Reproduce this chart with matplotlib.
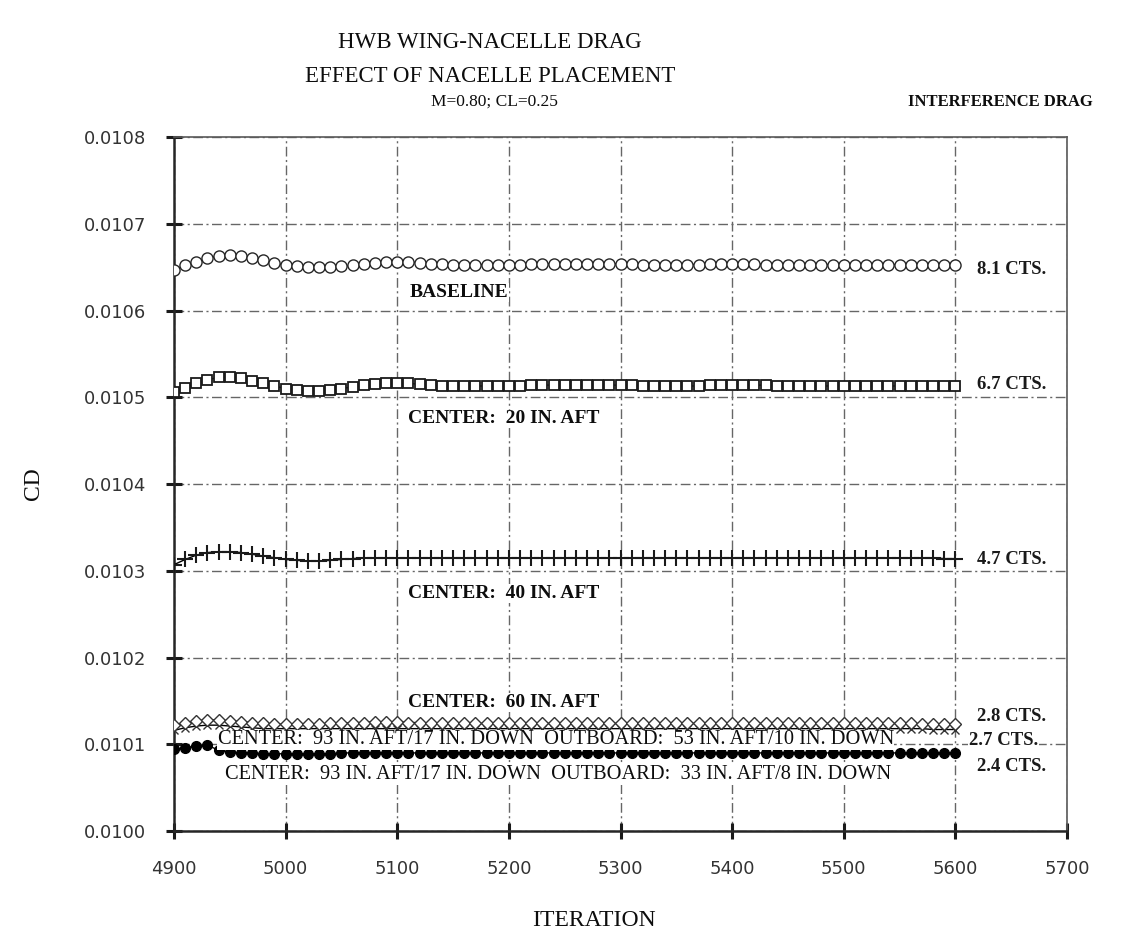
import matplotlib
matplotlib.use("Agg")
import matplotlib.pyplot as plt

# ---------------- data ----------------
iterations = list(range(4900, 5601, 10))

cd_baseline = [
    0.010647, 0.010652, 0.010656, 0.010660, 0.010663, 0.010664, 0.010663, 0.010661, 0.010658, 0.010655,
    0.010652, 0.010651, 0.010650, 0.010650, 0.010650, 0.010651, 0.010652, 0.010654, 0.010655, 0.010656,
    0.010656, 0.010656, 0.010655, 0.010654, 0.010654, 0.010653, 0.010653, 0.010653, 0.010653, 0.010653,
    0.010653, 0.010653, 0.010654, 0.010654, 0.010654, 0.010654, 0.010654, 0.010654, 0.010654, 0.010654,
    0.010654, 0.010654, 0.010653, 0.010653, 0.010653, 0.010653, 0.010653, 0.010653, 0.010654, 0.010654,
    0.010654, 0.010654, 0.010654, 0.010653, 0.010653, 0.010653, 0.010653, 0.010653, 0.010653, 0.010653,
    0.010653, 0.010653, 0.010653, 0.010653, 0.010653, 0.010653, 0.010653, 0.010653, 0.010653, 0.010653,
    0.010653]

cd_20in = [
    0.010506, 0.010511, 0.010516, 0.010520, 0.010523, 0.010523, 0.010522, 0.010519, 0.010516, 0.010513,
    0.010510, 0.010508, 0.010507, 0.010507, 0.010508, 0.010510, 0.010512, 0.010514, 0.010515, 0.010516,
    0.010516, 0.010516, 0.010515, 0.010514, 0.010513, 0.010513, 0.010513, 0.010513, 0.010513, 0.010513,
    0.010513, 0.010513, 0.010514, 0.010514, 0.010514, 0.010514, 0.010514, 0.010514, 0.010514, 0.010514,
    0.010514, 0.010514, 0.010513, 0.010513, 0.010513, 0.010513, 0.010513, 0.010513, 0.010514, 0.010514,
    0.010514, 0.010514, 0.010514, 0.010514, 0.010513, 0.010513, 0.010513, 0.010513, 0.010513, 0.010513,
    0.010513, 0.010513, 0.010513, 0.010513, 0.010513, 0.010513, 0.010513, 0.010513, 0.010513, 0.010513,
    0.010513]

cd_40in = [
    0.010307, 0.010313, 0.010318, 0.010321, 0.010322, 0.010322, 0.010321, 0.010319, 0.010317, 0.010315,
    0.010313, 0.010312, 0.010311, 0.010311, 0.010312, 0.010313, 0.010314, 0.010315, 0.010315, 0.010315,
    0.010315, 0.010315, 0.010315, 0.010315, 0.010315, 0.010315, 0.010315, 0.010315, 0.010315, 0.010315,
    0.010315, 0.010315, 0.010315, 0.010315, 0.010315, 0.010315, 0.010315, 0.010315, 0.010315, 0.010315,
    0.010315, 0.010315, 0.010315, 0.010315, 0.010315, 0.010315, 0.010315, 0.010315, 0.010315, 0.010315,
    0.010315, 0.010315, 0.010315, 0.010315, 0.010315, 0.010315, 0.010315, 0.010315, 0.010315, 0.010315,
    0.010315, 0.010315, 0.010315, 0.010315, 0.010315, 0.010315, 0.010315, 0.010315, 0.010315, 0.010314,
    0.010314]

cd_60in = [
    0.010122, 0.010125, 0.010127, 0.010128, 0.010128, 0.010127, 0.010126, 0.010125, 0.010124, 0.010123,
    0.010123, 0.010123, 0.010123, 0.010123, 0.010124, 0.010124, 0.010125, 0.010125, 0.010126, 0.010126,
    0.010126, 0.010125, 0.010125, 0.010124, 0.010124, 0.010124, 0.010124, 0.010124, 0.010124, 0.010124,
    0.010124, 0.010124, 0.010124, 0.010124, 0.010124, 0.010124, 0.010124, 0.010124, 0.010124, 0.010124,
    0.010124, 0.010124, 0.010124, 0.010124, 0.010124, 0.010124, 0.010124, 0.010124, 0.010124, 0.010124,
    0.010124, 0.010124, 0.010124, 0.010124, 0.010124, 0.010124, 0.010124, 0.010124, 0.010124, 0.010124,
    0.010124, 0.010124, 0.010124, 0.010124, 0.010124, 0.010124, 0.010124, 0.010123, 0.010123, 0.010123,
    0.010123]

cd_93_53in = [
    0.010116, 0.010119, 0.010121, 0.010122, 0.010122, 0.010121, 0.010120, 0.010119, 0.010118, 0.010118,
    0.010118, 0.010118, 0.010118, 0.010118, 0.010118, 0.010118, 0.010118, 0.010118, 0.010118, 0.010118,
    0.010118, 0.010118, 0.010118, 0.010118, 0.010118, 0.010118, 0.010118, 0.010118, 0.010118, 0.010118,
    0.010118, 0.010118, 0.010118, 0.010118, 0.010118, 0.010118, 0.010118, 0.010118, 0.010118, 0.010118,
    0.010118, 0.010118, 0.010118, 0.010118, 0.010118, 0.010118, 0.010118, 0.010118, 0.010118, 0.010118,
    0.010118, 0.010118, 0.010118, 0.010118, 0.010118, 0.010118, 0.010118, 0.010118, 0.010118, 0.010118,
    0.010118, 0.010118, 0.010118, 0.010118, 0.010118, 0.010118, 0.010118, 0.010118, 0.010117, 0.010117,
    0.010117]

cd_93_33in = [
    0.010094, 0.010096, 0.010098, 0.010099, 0.010093, 0.010091, 0.010090, 0.010090, 0.010089, 0.010089,
    0.010089, 0.010089, 0.010089, 0.010089, 0.010089, 0.010090, 0.010090, 0.010090, 0.010090, 0.010090,
    0.010090, 0.010090, 0.010090, 0.010090, 0.010090, 0.010090, 0.010090, 0.010090, 0.010090, 0.010090,
    0.010090, 0.010090, 0.010090, 0.010090, 0.010090, 0.010090, 0.010090, 0.010090, 0.010090, 0.010090,
    0.010090, 0.010090, 0.010090, 0.010090, 0.010090, 0.010090, 0.010090, 0.010090, 0.010090, 0.010090,
    0.010090, 0.010090, 0.010090, 0.010090, 0.010090, 0.010090, 0.010090, 0.010090, 0.010090, 0.010090,
    0.010090, 0.010090, 0.010090, 0.010090, 0.010090, 0.010090, 0.010090, 0.010090, 0.010090, 0.010090,
    0.010090]

x_ticks = [4900, 5000, 5100, 5200, 5300, 5400, 5500, 5600, 5700]
y_ticks = [0.0100, 0.0101, 0.0102, 0.0103, 0.0104, 0.0105, 0.0106, 0.0107, 0.0108]

series_labels = ["BASELINE", "CENTER:  20 IN. AFT", "CENTER:  40 IN. AFT", "CENTER:  60 IN. AFT",
                 "CENTER:  93 IN. AFT/17 IN. DOWN  OUTBOARD:  53 IN. AFT/10 IN. DOWN",
                 "CENTER:  93 IN. AFT/17 IN. DOWN  OUTBOARD:  33 IN. AFT/8 IN. DOWN"]
interference_labels = ["8.1 CTS.", "6.7 CTS.", "4.7 CTS.", "2.8 CTS.", "2.7 CTS.", "2.4 CTS."]

# ---------------- figure ----------------
W, H = 1139, 947
fig = plt.figure(figsize=(W / 100, H / 100), dpi=100)
L, R, T, B = 174, 1067, 137, 831
ax = fig.add_axes([L / W, 1 - B / H, (R - L) / W, (B - T) / H])
ax.set_xlim(4900, 5700)
ax.set_ylim(0.0100, 0.0108)

SERIF = ["Liberation Serif", "DejaVu Serif"]

ax.grid(True, color="0.4", linestyle=(0, (7, 2.5, 1.5, 2.5)), linewidth=1.0)
ax.set_axisbelow(True)

ax.set_xticks(x_ticks)
ax.set_yticks(y_ticks)
ax.set_xticklabels([str(v) for v in x_ticks])
ax.set_yticklabels(["%.4f" % v for v in y_ticks])
ax.tick_params(axis="both", direction="inout", length=12, width=2.2, color="0.1",
               labelsize=13, labelcolor="0.2")
ax.tick_params(axis="y", pad=14)
ax.tick_params(axis="x", pad=15)
for lab in ax.get_xticklabels() + ax.get_yticklabels():
    lab.set_family("DejaVu Sans")

for side in ["left", "bottom"]:
    ax.spines[side].set_linewidth(1.8)
    ax.spines[side].set_color("0.15")
for side in ["top", "right"]:
    ax.spines[side].set_linewidth(1.2)
    ax.spines[side].set_color("0.35")

lk = dict(color="black", linewidth=1.0)
ax.plot(iterations, cd_baseline, marker="o", markersize=8, markerfacecolor="white",
        markeredgecolor="0.15", markeredgewidth=1.0, zorder=4, **lk)
ax.plot(iterations, cd_20in, marker="s", markersize=7.5, markerfacecolor="white",
        markeredgecolor="0.1", markeredgewidth=1.3, zorder=4, **lk)
ax.plot(iterations, cd_40in, marker="+", markersize=11, markeredgecolor="0.1",
        markeredgewidth=1.5, zorder=4, **lk)
ax.plot(iterations, cd_93_53in, marker="x", markersize=6, markeredgecolor="0.2",
        markeredgewidth=1.0, zorder=4, **lk)
ax.plot(iterations, cd_60in, marker="D", markersize=6, markerfacecolor="white",
        markeredgecolor="0.2", markeredgewidth=1.0, zorder=4, **lk)
ax.plot(iterations, cd_93_33in, marker="o", markersize=7, markerfacecolor="black",
        markeredgecolor="black", zorder=4, **lk)

# series labels (data coords)
box = dict(facecolor="white", edgecolor="none", pad=0.5)
lab_pos = [(5111, 0.010621, "bold", 14), (5110, 0.010475, "bold", 14),
           (5110, 0.010274, "bold", 14), (5110, 0.010148, "bold", 14),
           (4939, 0.010105, "normal", 14.7), (4946, 0.010065, "normal", 14.7)]
for (x, y, wt, fs), s in zip(lab_pos, series_labels):
    ax.text(x, y, s, family=SERIF, fontsize=fs, fontweight=wt, va="center", ha="left",
            color="0.05", bbox=box, zorder=5)

cts_pos = [(5619, 0.010647), (5619, 0.010515), (5619, 0.010313),
           (5619, 0.010132), (5612, 0.010104), (5619, 0.010074)]
for (x, y), s in zip(cts_pos, interference_labels):
    ax.text(x, y, s, family=SERIF, fontsize=13.5, fontweight="bold", va="center", ha="left",
            color="0.1", bbox=box, zorder=5)

def ftext(x, y, s, **kw):
    fig.text(x / W, 1 - y / H, s, family=SERIF, color="0.05", **kw)

ftext(490, 42, "HWB WING-NACELLE DRAG", fontsize=16.5, ha="center", va="center")
ftext(490, 77, "EFFECT OF NACELLE PLACEMENT", fontsize=16.5, ha="center", va="center")
ftext(494, 102, "M=0.80; CL=0.25", fontsize=12.5, ha="center", va="center")
ftext(1000, 102, "INTERFERENCE DRAG", fontsize=12, ha="center", va="center", fontweight="bold")
ftext(34, 484, "CD", fontsize=17, ha="center", va="center", rotation=90)
ftext(594, 920, "ITERATION", fontsize=17, ha="center", va="center")

fig.savefig("out.png", dpi=100)
